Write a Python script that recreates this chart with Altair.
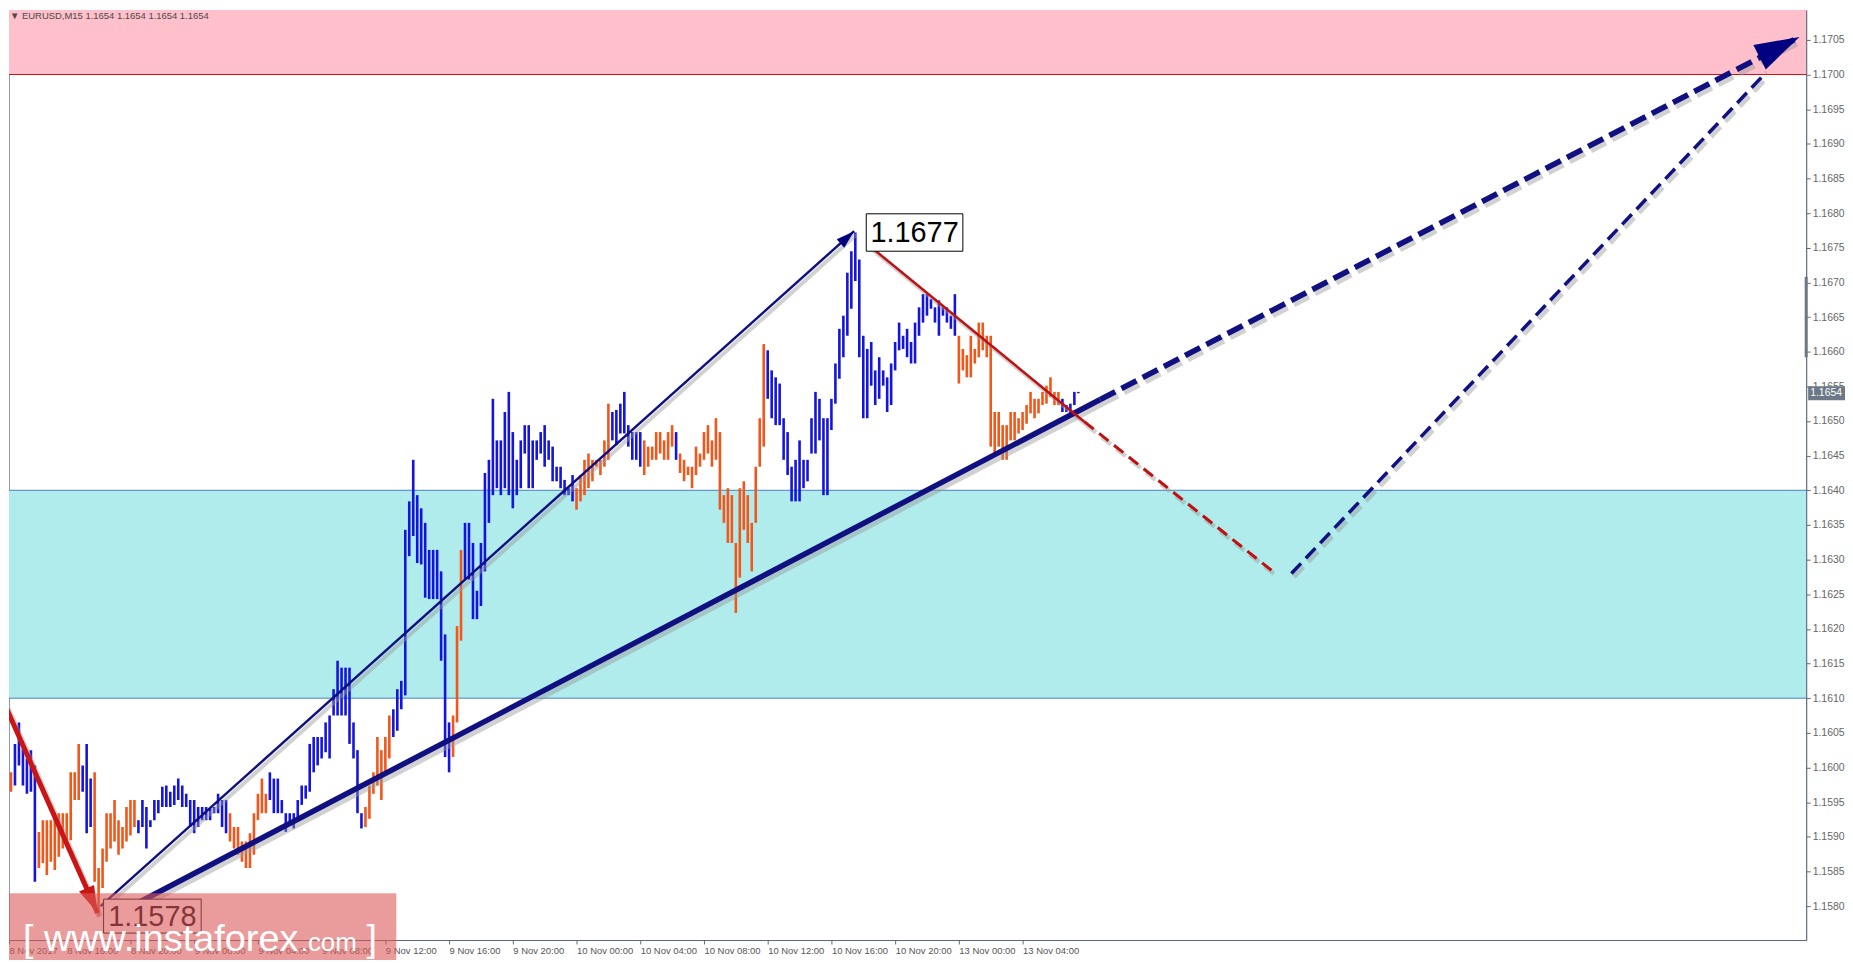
import altair as alt
import pandas as pd

# ---------------- data ----------------
HEADER = "\u25bc EURUSD,M15  1.1654 1.1654 1.1654 1.1654"

# direction (colour) of each M15 bar, as runs of (D = orange, U = blue, count)
runs = [("D", 3), ("U", 6), ("D", 11), ("U", 3), ("D", 11), ("U", 23), ("D", 10),
        ("U", 24), ("D", 7), ("U", 15), ("D", 3), ("U", 28), ("D", 9), ("U", 8),
        ("D", 8), ("U", 1), ("D", 22), ("U", 48), ("D", 26), ("U", 5)]

highs = [
    1.15984, 1.15984, 1.15993, 1.16034, 1.16065, 1.16027, 1.16013, 1.16025, 1.16003, 1.15907,
    1.15924, 1.15924, 1.15924, 1.15934, 1.15934, 1.15934, 1.15934, 1.15993, 1.15993, 1.16034,
    1.16003, 1.16034, 1.15984, 1.15993, 1.15855, 1.15883, 1.15934, 1.15934, 1.15953, 1.15924,
    1.15914, 1.15943, 1.15953, 1.15953, 1.15924, 1.15953, 1.15943, 1.15924, 1.15953, 1.15953,
    1.15972, 1.15974, 1.15965, 1.15974, 1.15984, 1.15974, 1.15962, 1.15953, 1.15953, 1.15943,
    1.15943, 1.15943, 1.15941, 1.15943, 1.15962, 1.15953, 1.15953, 1.15934, 1.15914, 1.15914,
    1.15893, 1.15893, 1.15905, 1.15934, 1.15962, 1.15984, 1.15962, 1.15993, 1.15984, 1.15984,
    1.15953, 1.15934, 1.15934, 1.15934, 1.15953, 1.15974, 1.15974, 1.16034, 1.16044, 1.16044,
    1.16044, 1.16065, 1.16075, 1.16113, 1.16154, 1.16144, 1.16144, 1.16144, 1.16065, 1.16025,
    1.15934, 1.15943, 1.15974, 1.15993, 1.16044, 1.16025, 1.16044, 1.16075, 1.16084, 1.16113,
    1.16125, 1.16343, 1.16384, 1.16444, 1.16393, 1.16374, 1.16353, 1.16314, 1.16314, 1.16314,
    1.16283, 1.16192, 1.16065, 1.16075, 1.16204, 1.16314, 1.16353, 1.16353, 1.16324, 1.16255,
    1.16324, 1.16425, 1.16444, 1.16532, 1.16472, 1.16472, 1.16513, 1.16542, 1.16484, 1.16444,
    1.16472, 1.16494, 1.16494, 1.16472, 1.16472, 1.16484, 1.16494, 1.16472, 1.16463, 1.16434,
    1.16434, 1.16415, 1.16403, 1.16422, 1.16403, 1.16422, 1.16444, 1.16453, 1.16444, 1.16444,
    1.16444, 1.16472, 1.16525, 1.16513, 1.16516, 1.16525, 1.16542, 1.16494, 1.16484, 1.16484,
    1.16484, 1.16472, 1.16463, 1.16463, 1.16484, 1.16484, 1.16472, 1.16484, 1.16494, 1.16484,
    1.16453, 1.16444, 1.16434, 1.16434, 1.16463, 1.16453, 1.16484, 1.16494, 1.16472, 1.16504,
    1.16484, 1.16393, 1.16403, 1.16393, 1.16324, 1.16403, 1.16413, 1.16393, 1.16353, 1.16434,
    1.16504, 1.16611, 1.16602, 1.16573, 1.16563, 1.16554, 1.16504, 1.16484, 1.16434, 1.16444,
    1.16472, 1.16444, 1.16444, 1.16504, 1.16542, 1.16532, 1.16504, 1.16504, 1.16532, 1.16583,
    1.16633, 1.16652, 1.16714, 1.16745, 1.16772, 1.16733, 1.16623, 1.16604, 1.16614, 1.16573,
    1.16592, 1.16573, 1.16563, 1.16583, 1.16614, 1.16642, 1.16623, 1.16633, 1.16614, 1.16642,
    1.16664, 1.16683, 1.16683, 1.16676, 1.16664, 1.16674, 1.16664, 1.16664, 1.16652, 1.16683,
    1.16623, 1.16604, 1.16595, 1.16623, 1.16604, 1.16642, 1.16642, 1.16623, 1.16623, 1.16513,
    1.16513, 1.16494, 1.16494, 1.16513, 1.16513, 1.16504, 1.16513, 1.16523, 1.16542, 1.16532,
    1.16532, 1.16542, 1.16551, 1.16563, 1.16542, 1.16542, 1.16532, 1.16523, 1.16525, 1.16542,
    1.16542,
]

lows = [
    1.15924, 1.15953, 1.15965, 1.15974, 1.16003, 1.15974, 1.15962, 1.15965, 1.15835, 1.15855,
    1.15862, 1.15845, 1.15864, 1.15852, 1.15871, 1.15883, 1.15895, 1.15895, 1.15953, 1.15953,
    1.15965, 1.15905, 1.15914, 1.15835, 1.15785, 1.15826, 1.15864, 1.15883, 1.15893, 1.15874,
    1.15883, 1.15893, 1.15902, 1.15914, 1.15905, 1.15914, 1.15883, 1.15914, 1.15924, 1.15934,
    1.15943, 1.15943, 1.15943, 1.15946, 1.15953, 1.15943, 1.15943, 1.15914, 1.15905, 1.15914,
    1.15924, 1.15924, 1.15924, 1.15934, 1.15934, 1.15914, 1.15905, 1.15893, 1.15883, 1.15874,
    1.15864, 1.15855, 1.15855, 1.15874, 1.15924, 1.15934, 1.15934, 1.15953, 1.15934, 1.15934,
    1.15934, 1.15907, 1.15917, 1.15912, 1.15926, 1.15946, 1.15955, 1.15965, 1.15993, 1.16003,
    1.16013, 1.16022, 1.16013, 1.16075, 1.16075, 1.16075, 1.16075, 1.16034, 1.16013, 1.15934,
    1.15912, 1.15914, 1.15926, 1.15962, 1.15974, 1.15953, 1.15993, 1.16013, 1.16044, 1.16053,
    1.16084, 1.16104, 1.16305, 1.16334, 1.16295, 1.16293, 1.16245, 1.16243, 1.16243, 1.16243,
    1.16154, 1.16015, 1.15993, 1.16015, 1.16065, 1.16183, 1.16271, 1.16271, 1.16214, 1.16214,
    1.16233, 1.16283, 1.16353, 1.16393, 1.16403, 1.16393, 1.16403, 1.16393, 1.16374, 1.16393,
    1.16403, 1.16453, 1.16403, 1.16403, 1.16444, 1.16453, 1.16434, 1.16444, 1.16413, 1.16413,
    1.16403, 1.16393, 1.16393, 1.16384, 1.16372, 1.16384, 1.16393, 1.16403, 1.16413, 1.16434,
    1.16422, 1.16434, 1.16444, 1.16472, 1.16465, 1.16482, 1.16482, 1.16463, 1.16444, 1.16444,
    1.16434, 1.16422, 1.16434, 1.16444, 1.16444, 1.16453, 1.16444, 1.16444, 1.16463, 1.16444,
    1.16425, 1.16413, 1.16422, 1.16403, 1.16422, 1.16434, 1.16444, 1.16453, 1.16434, 1.16444,
    1.16372, 1.16353, 1.16324, 1.16324, 1.16223, 1.16274, 1.16343, 1.16324, 1.16283, 1.16353,
    1.16434, 1.16463, 1.16532, 1.16504, 1.16494, 1.16494, 1.16444, 1.16422, 1.16384, 1.16384,
    1.16384, 1.16403, 1.16413, 1.16453, 1.16453, 1.16472, 1.16393, 1.16393, 1.16487, 1.16525,
    1.16561, 1.16592, 1.16623, 1.16662, 1.16702, 1.16592, 1.16504, 1.16504, 1.16551, 1.16523,
    1.16532, 1.16551, 1.16513, 1.16523, 1.16573, 1.16602, 1.16604, 1.16592, 1.16583, 1.16583,
    1.16623, 1.16642, 1.16652, 1.16662, 1.16642, 1.16623, 1.16652, 1.16642, 1.16633, 1.16623,
    1.16554, 1.16573, 1.16563, 1.16563, 1.16583, 1.16592, 1.16602, 1.16592, 1.16463, 1.16453,
    1.16463, 1.16444, 1.16444, 1.16472, 1.16472, 1.16482, 1.16487, 1.16496, 1.16511, 1.16504,
    1.16511, 1.16523, 1.16525, 1.16535, 1.16523, 1.16523, 1.16513, 1.16513, 1.16506, 1.16523,
    1.16540,
]

# zones (price ranges)
pink_zone = [1.1700, 1.1712]
cyan_zone = [1.1610, 1.1640]

# wave lines: bar index / price pairs
impulse_i, impulse_p = [24.5, 213.7], [1.1580, 1.16774]
trend_i, trend_p = [29, 275.5], [1.1579, 1.16531]
trend_dash_i, trend_dash_p = [275.5, 451], [1.16531, 1.17054]
corr_i, corr_p = [217.5, 271.5], [1.16753, 1.16499]
corr_dash_i, corr_dash_p = [271.5, 319.5], [1.16499, 1.1628]
fore_i, fore_p = [323.5, 442.7], [1.1628, 1.17003]
prev_i, prev_p = [-0.5, 23.75], [1.16103, 1.1579]

# arrowheads
head_i = [211.8, 22.2, 445.5]
head_p = [1.16764, 1.1581, 1.17038]
head_angle = [48, 156, 63]
head_size = [420, 900, 2500]
head_color = ["#000080", "#cc1414", "#000080"]

# price labels
lab_text = ["1.1677", "1.1578"]
lab_i1 = [216.75, 25.25]
lab_i2 = [241.0, 49.75]
lab_p1 = [1.16745, 1.15761]
lab_p2 = [1.16799, 1.15810]

last_price = 1.1654
day_range = [1.16592, 1.16708]

y_ticks = [1.1580, 1.1585, 1.1590, 1.1595, 1.1600, 1.1605, 1.1610, 1.1615, 1.1620,
           1.1625, 1.1630, 1.1635, 1.1640, 1.1645, 1.1650, 1.1655, 1.1660, 1.1665,
           1.1670, 1.1675, 1.1680, 1.1685, 1.1690, 1.1695, 1.1700, 1.1705]
x_tick_bars = [0, 16, 32, 48, 64, 80, 96, 112, 128, 144, 160, 176, 192, 208, 224, 240, 256]
x_tick_labels = ["8 Nov 2017", "8 Nov 16:00", "8 Nov 20:00", "9 Nov 00:00", "9 Nov 04:00",
                 "9 Nov 08:00", "9 Nov 12:00", "9 Nov 16:00", "9 Nov 20:00", "10 Nov 00:00",
                 "10 Nov 04:00", "10 Nov 08:00", "10 Nov 12:00", "10 Nov 16:00",
                 "10 Nov 20:00", "13 Nov 00:00", "13 Nov 04:00"]

# ---------------- build ----------------
W, H = 1805, 934
X_DOM = [1.5, 452.75]
Y_DOM = [1.15751, 1.17093]
UP_COL, DOWN_COL = "#1414e0", "#f2561a"
SH_DX, SH_DY = 0.6, 0.00005   # drop-shadow offset (about 2-3 px right, 3-4 px down)

dirs = []
for d, n in runs:
    dirs += [d] * n
bars = pd.DataFrame({"i": list(range(len(highs))), "p": lows, "p2": highs,
                     "c": [UP_COL if d == "U" else DOWN_COL for d in dirs]})

x_vals = [max(v, X_DOM[0]) for v in x_tick_bars]


def key(v):
    s = repr(float(v))
    return s[:-2] if s.endswith(".0") else s


mapping = ",".join("'%s':'%s'" % (key(v), t) for v, t in zip(x_vals, x_tick_labels))
label_expr = "{" + mapping + "}[''+datum.value]"

AX_COL = "#5d6b7a"
x_axis = alt.Axis(values=x_vals, labelExpr=label_expr, labelAlign="left", labelBaseline="top",
                  labelPadding=2, tickSize=4, labelFontSize=9.5, labelFont="Liberation Sans",
                  labelColor="#555555", domainColor=AX_COL, tickColor=AX_COL, grid=False,
                  labelOverlap=False, labelFlush=False, labelBound=False, title=None)
y_axis = alt.Axis(orient="right", values=y_ticks, format=".4f", tickSize=4, labelPadding=2,
                  labelFontSize=10.5, labelFont="Liberation Sans", labelColor="#666666",
                  domainColor=AX_COL, tickColor=AX_COL, grid=False, labelOverlap=False,
                  labelFlush=False, title=None)

XS = alt.Scale(domain=X_DOM, nice=False, zero=False)
YS = alt.Scale(domain=Y_DOM, nice=False, zero=False)
X = alt.X("i:Q", scale=XS, axis=x_axis)
Y = alt.Y("p:Q", scale=YS, axis=y_axis)
X2 = alt.X2("i2:Q")
Y2 = alt.Y2("p2:Q")
C = alt.Color("c:N", scale=None)


def df_line(ii, pp):
    return pd.DataFrame({"i": ii, "p": pp})


zones = alt.Chart(pd.DataFrame({"p": [pink_zone[0], cyan_zone[0]],
                                "p2": [pink_zone[1], cyan_zone[1]],
                                "c": ["#ffc0cb", "#b0ecec"]})).mark_rect(clip=True).encode(
    y=Y, y2=Y2, color=C)

zone_lines = alt.Chart(pd.DataFrame({"p": [pink_zone[0], cyan_zone[0], cyan_zone[1]],
                                     "c": ["#d01010", "#4a7fc0", "#4a7fc0"]})).mark_rule(
    strokeWidth=1).encode(y=Y, color=C)

bar_layer = alt.Chart(bars).mark_rule(strokeWidth=2.6, clip=True).encode(
    x=X, y=Y, y2=Y2, color=C)


def line(ii, pp, color, width, dash=None):
    kw = dict(color=color, strokeWidth=width, clip=True, strokeCap="butt")
    if dash:
        kw["strokeDash"] = dash
    return alt.Chart(df_line(ii, pp)).mark_line(**kw).encode(x=X, y=Y)


def shadow(ii, pp, width, dash=None):
    kw = dict(color="#9a9a9a", opacity=0.45, strokeWidth=width + 1.5, clip=True,
              strokeCap="butt")
    if dash:
        kw["strokeDash"] = dash
    return alt.Chart(df_line(ii, pp)).transform_calculate(
        si="datum.i + %f" % SH_DX, sp="datum.p - %f" % SH_DY
    ).mark_line(**kw).encode(x=alt.X("si:Q", scale=XS, axis=x_axis),
                             y=alt.Y("sp:Q", scale=YS, axis=y_axis))


specs = [
    (trend_i, trend_p, "#101080", 5.5, None),
    (trend_dash_i, trend_dash_p, "#101080", 5.5, [17, 7]),
    (impulse_i, impulse_p, "#101080", 2.5, None),
    (corr_i, corr_p, "#c01010", 2.5, None),
    (corr_dash_i, corr_dash_p, "#c01010", 3, [12, 7]),
    (fore_i, fore_p, "#101080", 3.5, [14, 7]),
    (prev_i, prev_p, "#cc1414", 5, None),
]
shadows = [shadow(a, b, w, d) for a, b, c, w, d in specs]
lines = [line(a, b, c, w, d) for a, b, c, w, d in specs]

heads = alt.Chart(pd.DataFrame({"i": head_i, "p": head_p, "a": head_angle,
                                "s": head_size, "c": head_color})).mark_point(
    shape="M0,-1L0.55,0.8L-0.55,0.8Z", filled=True, opacity=1, clip=True).encode(
    x=X, y=Y, angle=alt.Angle("a:Q", scale=None), size=alt.Size("s:Q", scale=None, legend=None),
    color=C)

lab_box = alt.Chart(pd.DataFrame({"i": lab_i1, "i2": lab_i2, "p": lab_p1, "p2": lab_p2})
                    ).mark_rect(fill="white", stroke="#000000", strokeWidth=1).encode(
    x=X, x2=X2, y=Y, y2=Y2)
lab_txt = alt.Chart(pd.DataFrame({"t": lab_text,
                                  "i": [(a + b) / 2 for a, b in zip(lab_i1, lab_i2)],
                                  "p": [(a + b) / 2 for a, b in zip(lab_p1, lab_p2)]})
                    ).mark_text(font="Liberation Sans", fontSize=29, color="#000000",
                                baseline="middle", align="center", dy=1).encode(
    x=X, y=Y, text="t:N")

one = pd.DataFrame({"k": [0]})
wm_rect = alt.Chart(one).mark_rect(color="#dc5a5a", opacity=0.6).encode(
    x=alt.value(0), x2=alt.value(389), y=alt.value(887), y2=alt.value(954))
wm_t1 = alt.Chart(one).mark_text(text="[ www.instaforex", font="Liberation Sans", fontSize=38,
                                 color="white", align="left", baseline="alphabetic").encode(
    x=alt.value(14), y=alt.value(945))
wm_t2 = alt.Chart(one).mark_text(text=".com", font="Liberation Sans", fontSize=26,
                                 color="white", align="left", baseline="alphabetic").encode(
    x=alt.value(293), y=alt.value(945))
wm_t3 = alt.Chart(one).mark_text(text="]", font="Liberation Sans", fontSize=38,
                                 color="white", align="left", baseline="alphabetic").encode(
    x=alt.value(359), y=alt.value(945))

header = alt.Chart(one).mark_text(text=HEADER, font="Liberation Sans", fontSize=9.5,
                                  color="#4a4a4a", align="left", baseline="top").encode(
    x=alt.value(1), y=alt.value(1))

tag_df = pd.DataFrame({"p": [last_price], "t": ["%.4f" % last_price]})
tag_box = alt.Chart(tag_df).mark_point(shape="M-1,-0.38L1,-0.38L1,0.38L-1,0.38Z", filled=True,
                                       opacity=1, color="#6c7886", size=1369).encode(
    x=alt.value(W + 20.5), y=Y)
tag_txt = alt.Chart(tag_df).mark_text(font="Liberation Sans", fontSize=10.5, color="white",
                                      align="left", baseline="middle").encode(
    x=alt.value(W + 4), y=Y, text="t:N")

rng = alt.Chart(pd.DataFrame({"p": [day_range[0]], "p2": [day_range[1]]})).mark_rule(
    strokeWidth=3, color="#6c7886").encode(x=alt.value(W), y=Y, y2=Y2)

chart = alt.layer(zones, zone_lines, bar_layer, *shadows, *lines, heads, lab_box, lab_txt,
                  wm_rect, wm_t1, wm_t2, wm_t3, header, tag_box, tag_txt, rng).properties(
    width=W, height=H, padding=0, background="white"
).configure_view(stroke="#8c99a6", strokeWidth=1)

chart.save("out.html", embed_options={"renderer": "svg", "actions": False})
